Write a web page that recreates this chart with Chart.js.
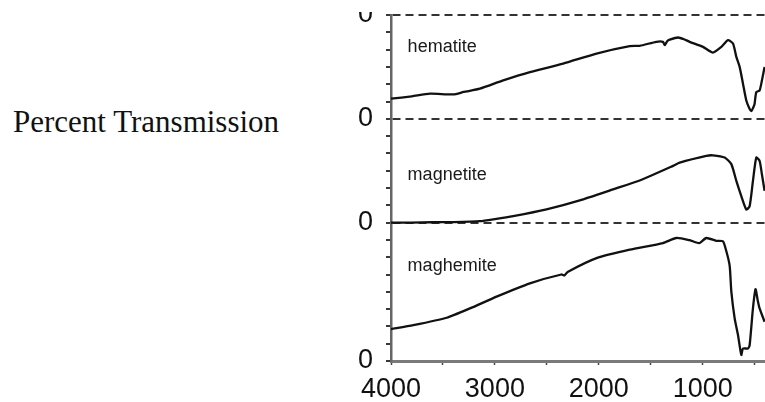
<!DOCTYPE html>
<html>
<head>
<meta charset="utf-8">
<script src="https://cdn.jsdelivr.net/npm/chart.js@4"></script>
<style>
  html, body { margin: 0; padding: 0; background: #fff; }
  body { width: 765px; height: 402px; position: relative; overflow: hidden; }
  #ytitle {
    position: absolute; left: 13px; top: 106px;
    font-family: "Liberation Serif", "Times New Roman", serif;
    font-size: 31px; line-height: 31px; color: #111; white-space: nowrap;
  }
  /* the figure is cut off a little above the top baseline */
  #clip { position: absolute; left: 0; top: 12px; width: 765px; height: 390px; overflow: hidden; }
  #spectra { display: block; margin-top: -12px; }
</style>
</head>
<body>
<div id="ytitle">Percent Transmission</div>
<div id="clip"><canvas id="spectra" width="765" height="402"></canvas></div>
<script>
// wavenumbers (cm-1) and stacked transmission for each oxide
const hematiteWn = [4000, 3800, 3625, 3400, 3300, 3144, 2920, 2663, 2343, 2022, 1702, 1606, 1446, 1382, 1365, 1340, 1317, 1237, 1180, 1125, 997, 901, 820, 757, 708, 676, 644, 612, 580, 550, 532, 510, 500, 484, 452, 430, 404];
const hematiteT  = [15.16, 15.3, 15.45, 15.41, 15.55, 15.74, 16.22, 16.7, 17.19, 17.77, 18.2, 18.22, 18.45, 18.45, 18.26, 18.5, 18.58, 18.7, 18.6, 18.45, 18.16, 17.83, 18.16, 18.55, 18.35, 17.58, 17.0, 16.03, 15.06, 14.6, 14.45, 14.7, 14.87, 15.54, 15.64, 16.2, 17.0];

const magnetiteWn = [4000, 3800, 3600, 3400, 3144, 3000, 2824, 2503, 2183, 1862, 1600, 1285, 1221, 965, 901, 788, 724, 676, 628, 580, 548, 516, 484, 452, 430, 404];
const magnetiteT  = [8.0, 8.0, 8.02, 8.03, 8.08, 8.2, 8.37, 8.76, 9.28, 9.92, 10.45, 11.28, 11.47, 11.86, 11.89, 11.76, 11.38, 10.41, 9.53, 8.76, 8.95, 10.41, 11.76, 11.57, 10.8, 9.83];

const maghemiteWn = [4000, 3785, 3464, 3240, 2984, 2663, 2360, 2330, 2300, 2022, 1702, 1382, 1253, 1125, 1061, 1029, 965, 869, 805, 772, 740, 724, 692, 660, 628, 612, 564, 548, 516, 491, 470, 452, 404];
const maghemiteT  = [1.84, 2.07, 2.5, 3.04, 3.72, 4.49, 5.0, 4.95, 5.15, 5.95, 6.44, 6.82, 7.11, 6.98, 6.85, 6.82, 7.11, 6.95, 6.92, 6.34, 5.5, 4.01, 2.46, 1.5, 0.35, 0.72, 0.72, 0.91, 3.04, 4.15, 3.5, 3.04, 2.27];

// baselines of the stacked traces (each drawn as "0")
const baselines = [8, 14, 20];
const xTickValues = [4000, 3500, 3000, 2500, 2000, 1500, 1000, 500];
const xTickLabels = ['4000', '', '3000', '', '2000', '', '1000', ''];

// trace names and where they sit
const traceNames = ['hematite', 'magnetite', 'maghemite'];
const traceNameAt = [[3840, 17.85], [3840, 10.45], [3840, 5.2]];

function toPoints(wn, t) {
    return wn.map((w, i) => ({ x: w, y: t[i] }));
}

function traceStyle(points) {
    return {
        data: points,
        borderColor: '#111',
        borderWidth: 2.3,
        pointRadius: 0,
        tension: 0.2,
        fill: false
    };
}

// writes the oxide name inside each panel
const traceNamePlugin = {
    id: 'traceNames',
    afterDatasetsDraw(chart) {
        const { ctx, scales } = chart;
        ctx.save();
        ctx.font = '18px "Liberation Sans", Arial, sans-serif';
        ctx.fillStyle = '#1a1a1a';
        ctx.textBaseline = 'alphabetic';
        ctx.textAlign = 'left';
        traceNames.forEach((name, i) => {
            const [w, t] = traceNameAt[i];
            ctx.fillText(name, scales.x.getPixelForValue(w), scales.y.getPixelForValue(t));
        });
        ctx.restore();
    }
};

const tickFont = { family: '"Liberation Sans", Arial, sans-serif', size: 27 };

new Chart(document.getElementById('spectra'), {
    type: 'line',
    data: {
        datasets: [
            traceStyle(toPoints(hematiteWn, hematiteT)),
            traceStyle(toPoints(magnetiteWn, magnetiteT)),
            traceStyle(toPoints(maghemiteWn, maghemiteT))
        ]
    },
    options: {
        responsive: false,
        animation: false,
        layout: { padding: { top: 15, right: 0, bottom: 0, left: 0 } },
        plugins: {
            legend: { display: false },
            tooltip: { enabled: false }
        },
        scales: {
            x: {
                type: 'linear',
                reverse: true,
                min: 400,
                max: 4000,
                afterBuildTicks: (s) => { s.ticks = xTickValues.map(v => ({ value: v })); },
                afterFit: (s) => { s.height = 41; s.paddingLeft = 0; s.paddingRight = 0; },
                grid: {
                    drawOnChartArea: false,
                    drawTicks: true,
                    tickLength: 4,
                    tickColor: '#444',
                    tickWidth: 1.5
                },
                border: { color: '#7a7a7a', width: 3 },
                ticks: {
                    font: tickFont,
                    color: '#111',
                    padding: 8,
                    maxRotation: 0,
                    autoSkip: false,
                    callback: (v, i) => xTickLabels[i]
                }
            },
            y: {
                type: 'linear',
                min: 0,
                max: 20,
                afterFit: (s) => { s.width = 391; s.paddingTop = 0; s.paddingBottom = 0; },
                grid: {
                    drawOnChartArea: true,
                    color: (c) => baselines.includes(c.tick && c.tick.value) ? '#333' : 'rgba(0,0,0,0)',
                    lineWidth: 2,
                    tickLength: 5,
                    tickColor: '#222',
                    tickWidth: 1.8
                },
                border: { color: '#666', width: 2.5, dash: [8, 5] },
                ticks: {
                    stepSize: 1,
                    font: tickFont,
                    color: '#111',
                    padding: 13,
                    autoSkip: false,
                    callback: (v) => (v === 0 || baselines.includes(v)) ? '0' : ''
                }
            }
        }
    },
    plugins: [traceNamePlugin]
});
</script>
</body>
</html>
